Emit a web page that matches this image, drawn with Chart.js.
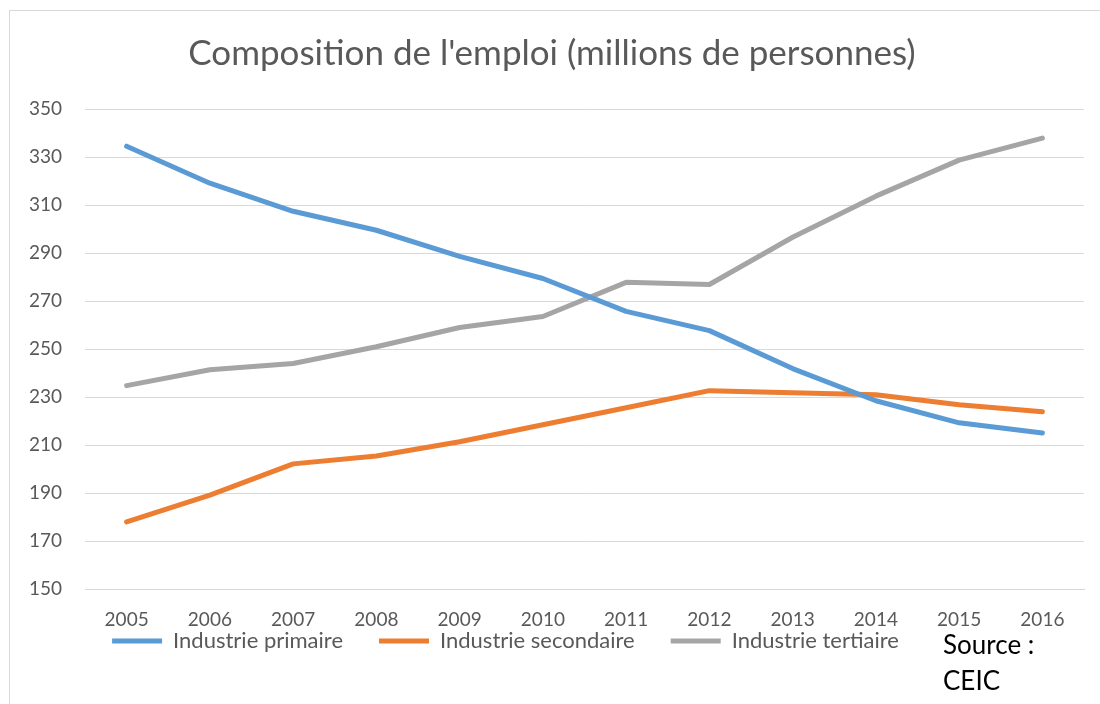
<!DOCTYPE html>
<html>
<head>
<meta charset="utf-8">
<script src="https://cdn.jsdelivr.net/npm/chart.js@4"></script>
<style>
  html, body { margin: 0; padding: 0; background: #fff; }
  #wrap { position: relative; width: 1100px; height: 704px; }
  #frame { position: absolute; left: 9px; top: 10px; right: -2px; bottom: -2px;
           border-left: 1px solid #d9d9d9; border-top: 1px solid #d9d9d9; }
  #source { position: absolute; left: 943px; top: 626px; font: 26px Lato, sans-serif;
            line-height: 36px; color: #000; }
</style>
</head>
<body>
<div id="wrap">
  <div id="frame"></div>
  <canvas id="myChart" width="1100" height="704"></canvas>
  <div id="source">Source :<br>CEIC</div>
</div>
<script>
// values
const years = ['2005', '2006', '2007', '2008', '2009', '2010', '2011', '2012', '2013', '2014', '2015', '2016'];
const primaire = [334.5, 319.1, 307.4, 299.5, 288.6, 279.4, 265.7, 257.7, 241.9, 228.5, 219.3, 215.1];
const secondaire = [178.0, 189.2, 202.2, 205.5, 211.4, 218.5, 225.6, 232.7, 231.8, 231.0, 226.8, 223.9];
const tertiaire = [234.8, 241.4, 244.0, 251.0, 259.0, 263.6, 277.8, 276.9, 296.6, 313.7, 328.7, 337.9];
const seriesNames = ['Industrie primaire', 'Industrie secondaire', 'Industrie tertiaire'];
const seriesColors = ['#5b9bd5', '#ed7d31', '#a5a5a5'];

const grey = '#595959';
const font = 'Lato';
const legendSize = 22;
const legendPad = 36;

function makeDataset(i, values) {
    return {
        label: seriesNames[i],
        data: values,
        borderColor: seriesColors[i],
        backgroundColor: seriesColors[i],
        borderWidth: 5,
        borderCapStyle: 'round',
        borderJoinStyle: 'round',
        pointRadius: 0,
        pointStyle: 'line',
        fill: false,
        tension: 0
    };
}

// moves the legend so it sits left of the "Source" note, like the original
const legendPlacer = {
    id: 'legendPlacer',
    afterLayout(chart) {
        const lg = chart.legend;
        const h = lg.bottom - lg.top;
        lg.left = 0;
        lg.right = 1011;
        lg.top = 641 - legendPad - legendSize / 2;
        lg.bottom = lg.top + h;
    }
};

new Chart(document.getElementById('myChart').getContext('2d'), {
    type: 'line',
    data: {
        labels: years,
        datasets: [makeDataset(0, primaire), makeDataset(1, secondaire), makeDataset(2, tertiaire)]
    },
    plugins: [legendPlacer],
    options: {
        responsive: false,
        animation: false,
        layout: { padding: { left: 20, right: 16, top: 33, bottom: -14 } },
        plugins: {
            title: {
                display: true,
                text: "Composition de l'emploi (millions de personnes)",
                color: grey,
                font: { family: font, size: 35, weight: 'normal' },
                padding: { top: 0, bottom: 34 }
            },
            legend: {
                position: 'bottom',
                labels: {
                    usePointStyle: true,
                    pointStyleWidth: 50,
                    boxHeight: 5,
                    padding: legendPad,
                    color: grey,
                    font: { family: font, size: legendSize }
                }
            },
            tooltip: { enabled: false }
        },
        scales: {
            x: {
                offset: true,
                grid: { display: false, drawTicks: false },
                border: { display: true, color: '#d9d9d9', width: 1 },
                ticks: { color: grey, font: { family: font, size: 19 }, padding: 19, maxRotation: 0 }
            },
            y: {
                min: 150,
                max: 350,
                afterFit(scale) { scale.width = 65; },
                grid: { color: '#d9d9d9', lineWidth: 1, drawTicks: false },
                border: { display: false },
                ticks: { stepSize: 20, color: grey, font: { family: font, size: 19 }, padding: 23 }
            }
        }
    }
});
</script>
</body>
</html>
